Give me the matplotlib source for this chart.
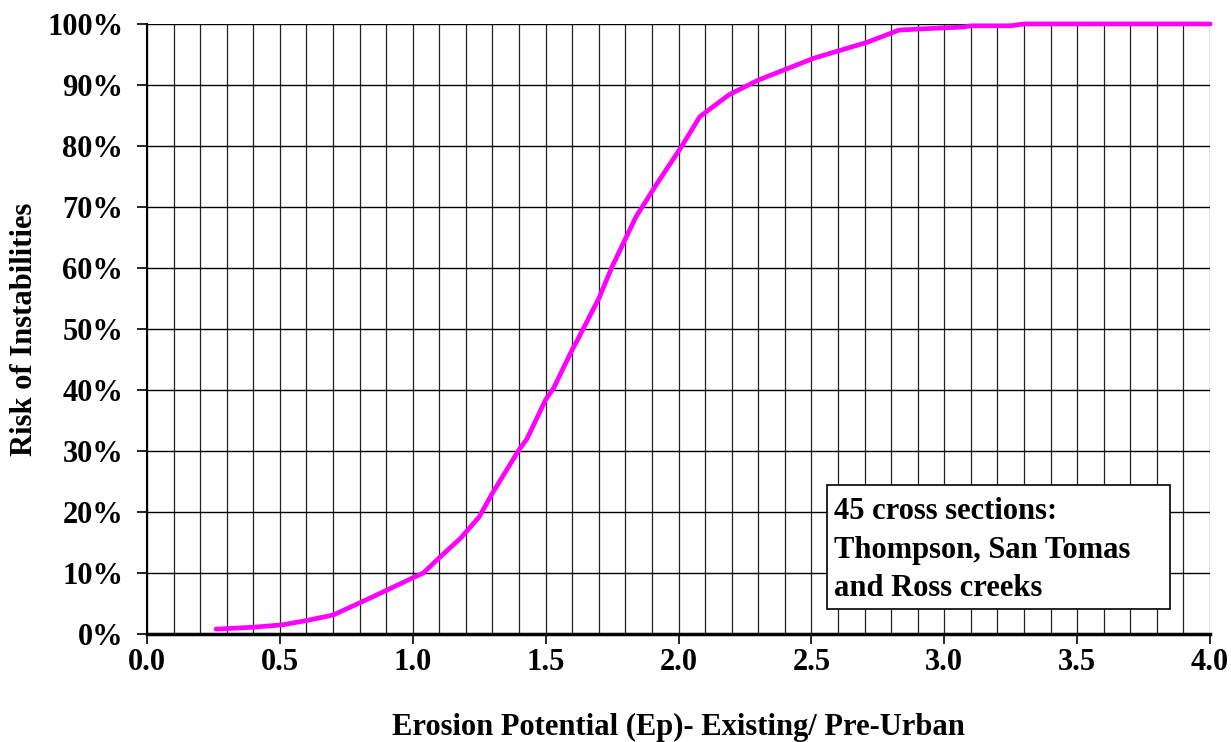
import matplotlib
matplotlib.use("Agg")
import matplotlib.pyplot as plt
from matplotlib.ticker import MultipleLocator, FuncFormatter
from matplotlib.patches import Rectangle

# Data
ep = [0.26, 0.40, 0.51, 0.60, 0.70, 0.85, 1.00, 1.04, 1.10, 1.18, 1.25, 1.30, 1.40,
      1.43, 1.50, 1.53, 1.60, 1.62, 1.70, 1.75, 1.84, 1.92, 2.01, 2.08, 2.19, 2.30,
      2.51, 2.71, 2.83, 2.92, 3.07, 3.10, 3.25, 3.30, 3.60, 4.00]
risk = [0.8, 1.1, 1.5, 2.2, 3.1, 6.1, 9.2, 10.0, 12.5, 15.7, 19.2, 23.1, 30.2,
        32.0, 38.4, 40.3, 46.6, 48.2, 55.0, 60.2, 68.4, 73.9, 79.8, 84.8, 88.4, 90.8,
        94.4, 97.0, 99.0, 99.2, 99.5, 99.7, 99.7, 100.0, 100.0, 100.0]

xlabel = "Erosion Potential (Ep)- Existing/ Pre-Urban"
ylabel = "Risk of Instabilities"
note_lines = ["45 cross sections:", "Thompson, San Tomas", "and Ross creeks"]

plt.rcParams['font.family'] = ['Liberation Serif', 'DejaVu Serif']
plt.rcParams['font.weight'] = 'bold'

fig = plt.figure(figsize=(12.31, 7.42), dpi=100)
ax = fig.add_axes([0.1194, 0.1456, 0.8636, 0.8221])

ax.plot(ep, risk, color='#FF00FF', lw=3.4, solid_capstyle='round', zorder=3, clip_on=False)

ax.set_xlim(0, 4.0)
ax.set_ylim(0, 100)
ax.xaxis.set_major_locator(MultipleLocator(0.5))
ax.xaxis.set_minor_locator(MultipleLocator(0.1))
ax.yaxis.set_major_locator(MultipleLocator(10))
ax.xaxis.set_major_formatter(FuncFormatter(lambda v, p: f"{v:.1f}"))
ax.yaxis.set_major_formatter(FuncFormatter(lambda v, p: f"{int(round(v))}%"))

ax.grid(which='major', axis='y', color='black', lw=1.0)
ax.grid(which='both', axis='x', color='#222222', lw=0.9)
ax.set_axisbelow(True)

for s in ['top', 'right']:
    ax.spines[s].set_visible(False)
ax.spines['left'].set_linewidth(1.5)
ax.spines['bottom'].set_linewidth(2.5)

ax.tick_params(axis='both', which='major', direction='out', length=7, width=1.2,
               labelsize=22, colors='black')
ax.tick_params(axis='x', which='major', pad=3)
ax.tick_params(axis='y', which='major', pad=10)
ax.tick_params(axis='x', which='minor', length=0)
for lab in ax.get_xticklabels() + ax.get_yticklabels():
    lab.set_fontweight('bold')

ax.set_xlabel(xlabel, fontsize=22, fontweight='bold', labelpad=26)
ax.set_ylabel(ylabel, fontsize=22, fontweight='bold', labelpad=6)

# annotation box
rect = Rectangle((0.640, 0.041), 0.322, 0.203, transform=ax.transAxes,
                 facecolor='white', edgecolor='black', lw=1.2, zorder=4)
ax.add_patch(rect)
ys = [0.201, 0.137, 0.074]
for t, y in zip(note_lines, ys):
    ax.text(0.646, y, t, transform=ax.transAxes, fontsize=22, fontweight='bold',
            ha='left', va='center', zorder=5)

fig.savefig('out.png', dpi=100)
